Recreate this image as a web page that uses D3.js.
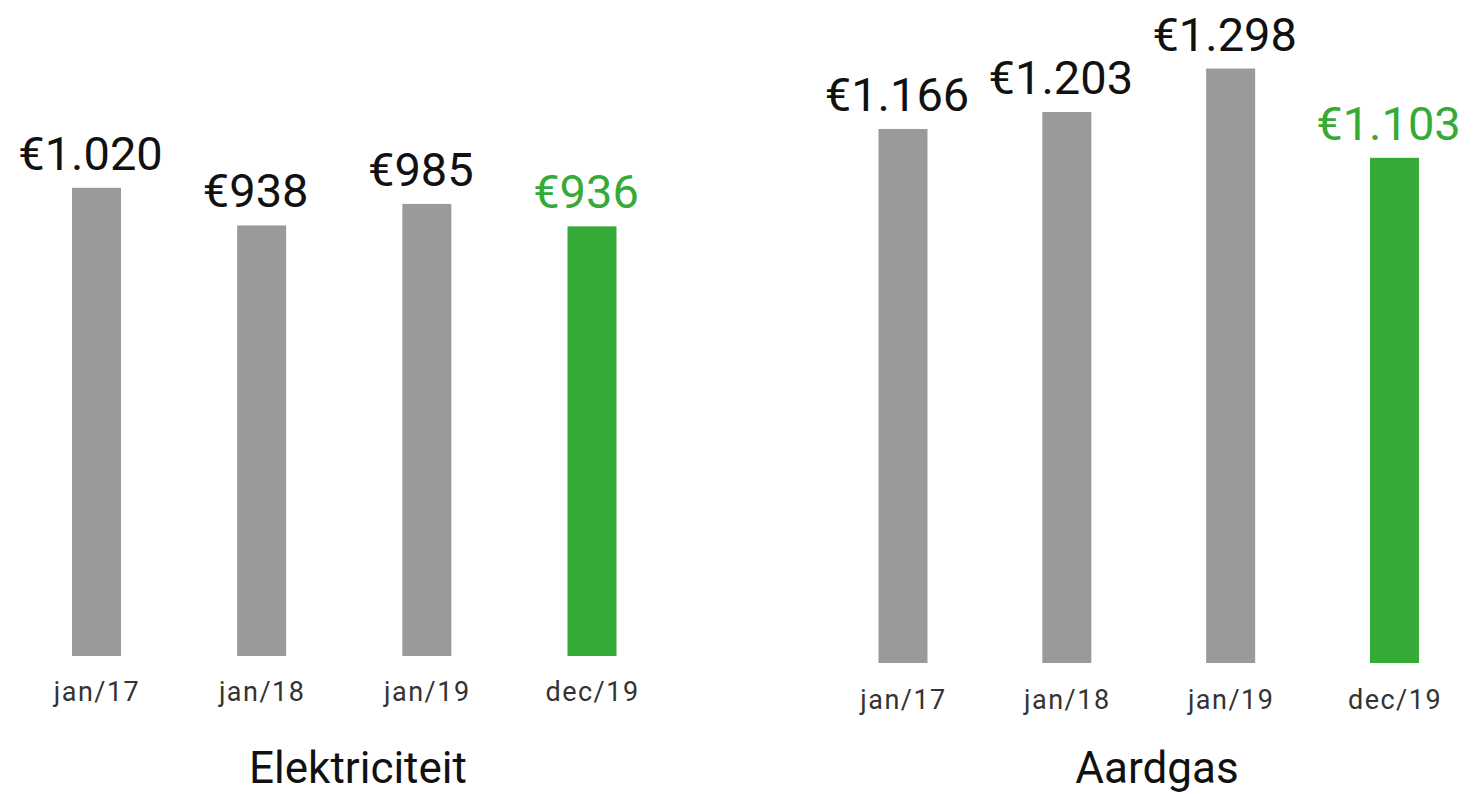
<!DOCTYPE html>
<html><head><meta charset="utf-8">
<script src="https://cdn.jsdelivr.net/npm/d3@7"></script>
<style>
html,body{margin:0;padding:0;background:#fff;}
svg{display:block;font-family:Roboto,"Noto Sans",sans-serif;}
</style></head>
<body>
<svg id="chart" width="1478" height="794"></svg>
<script>
const categories = ["jan/17", "jan/18", "jan/19", "dec/19"];
const elektriciteitValues = [1020, 938, 985, 936];
const aardgasValues = [1166, 1203, 1298, 1103];
const valueLabelsElektriciteit = ["€1.020", "€938", "€985", "€936"];
const valueLabelsAardgas = ["€1.166", "€1.203", "€1.298", "€1.103"];
const panelTitles = ["Elektriciteit", "Aardgas"];

const GREY = "#9a9a9a", GREEN = "#35aa37";
const svg = d3.select("#chart");

const panels = [
  {title: panelTitles[0], values: elektriciteitValues, labels: valueLabelsElektriciteit,
   xRange: [96.5, 592], bottom: 656, k: 0.459, catY: 701, titleX: 358},
  {title: panelTitles[1], values: aardgasValues, labels: valueLabelsAardgas,
   xRange: [903, 1394.5], bottom: 663, k: 0.458, catY: 709, titleX: 1157}
];

panels.forEach(p => {
  const x = d3.scalePoint().domain(categories).range(p.xRange);
  const y = d3.scaleLinear().domain([0, 1400]).range([p.bottom, p.bottom - 1400 * p.k]);
  const bw = 49;
  const g = svg.append("g");
  const data = categories.map((c, i) => ({c, v: p.values[i], label: p.labels[i], last: i === categories.length - 1}));

  g.selectAll("rect").data(data).join("rect")
    .attr("x", d => x(d.c) - bw / 2)
    .attr("width", bw)
    .attr("y", d => y(d.v))
    .attr("height", d => y(0) - y(d.v))
    .attr("fill", d => d.last ? GREEN : GREY);

  g.selectAll("text.val").data(data).join("text")
    .attr("class", "val")
    .attr("x", d => x(d.c) - 6)
    .attr("y", d => y(d.v) - 18)
    .attr("text-anchor", "middle")
    .attr("font-size", 47)
    .attr("fill", d => d.last ? GREEN : "#111")
    .text(d => d.label);

  const axis = d3.axisBottom(x).tickSize(0).tickPadding(0);
  const ax = g.append("g").attr("transform", `translate(0,${p.catY})`).call(axis);
  ax.select(".domain").remove();
  ax.selectAll("text")
    .attr("dy", 0)
    .attr("font-size", 27)
    .attr("letter-spacing", 1.5)
    .attr("font-family", "Roboto, sans-serif")
    .attr("fill", "#333");

  g.append("text")
    .attr("x", p.titleX)
    .attr("y", 783)
    .attr("text-anchor", "middle")
    .attr("font-size", 44)
    .attr("fill", "#111")
    .text(p.title);
});
</script>
</body></html>
